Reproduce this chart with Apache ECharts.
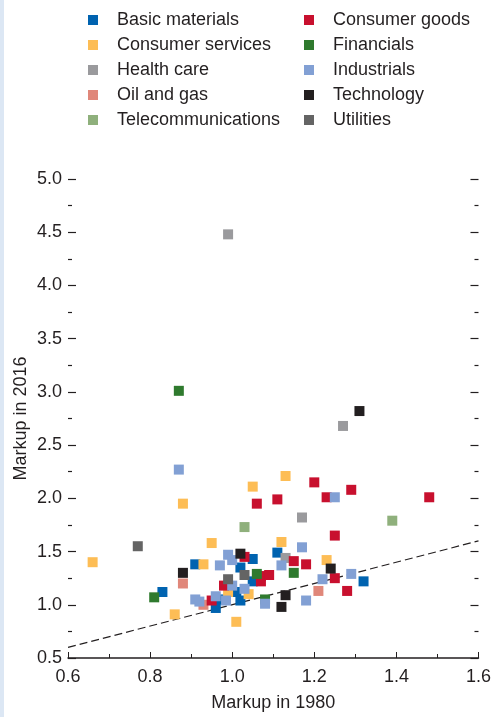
<!DOCTYPE html>
<html>
<head>
<meta charset="utf-8">
<script src="https://cdn.jsdelivr.net/npm/echarts@6/dist/echarts.min.js"></script>
<style>
  html, body { margin: 0; padding: 0; background: #fff; }
  #chart { width: 494px; height: 717px; }
</style>
</head>
<body>
<div id="chart"></div>
<script>
// sector data: [markup 1980, markup 2016]
const basicMaterials = [[0.83,1.12],[0.91,1.38],[0.96,0.97],[0.97,1.05],[1.01,1.12],[1.02,1.04],[1.02,1.35],[1.05,1.43],[1.05,1.22],[1.11,1.49],[1.32,1.22]];
const consumerGoods = [[0.95,1.04],[0.98,1.18],[1.03,1.45],[1.06,1.95],[1.07,1.27],[1.07,1.22],[1.09,1.28],[1.11,1.99],[1.15,1.41],[1.18,1.38],[1.20,2.15],[1.23,2.01],[1.25,1.65],[1.25,1.25],[1.28,1.13],[1.29,2.08],[1.48,2.01]];
const consumerServices = [[0.66,1.40],[0.86,0.91],[0.88,1.95],[0.93,1.38],[0.95,1.58],[0.99,1.12],[1.01,0.84],[1.04,1.10],[1.05,2.11],[1.12,1.59],[1.13,2.21],[1.23,1.42]];
const financials = [[0.81,1.07],[0.87,3.01],[1.06,1.29],[1.08,1.05],[1.15,1.30]];
const healthCare = [[0.99,4.48],[1.13,1.44],[1.17,1.82],[1.27,2.68]];
const industrials = [[0.87,2.27],[0.91,1.05],[0.92,1.03],[0.96,1.08],[0.97,1.37],[0.985,1.04],[0.99,1.47],[1.0,1.42],[1.0,1.18],[1.03,1.15],[1.08,1.01],[1.12,1.37],[1.17,1.54],[1.18,1.04],[1.22,1.24],[1.25,2.01],[1.29,1.29]];
const oilAndGas = [[0.88,1.20],[0.93,1.00],[1.21,1.13]];
const technology = [[0.88,1.30],[1.02,1.48],[1.12,0.98],[1.13,1.09],[1.24,1.34],[1.31,2.82]];
const telecoms = [[1.03,1.73],[1.39,1.79]];
const utilities = [[0.77,1.55],[0.99,1.24],[1.03,1.28]];

// 45 degree line
const diagonal = [[0.6,0.6],[1.6,1.6]];

const leftLegend = ['Basic materials', 'Consumer services', 'Health care', 'Oil and gas', 'Telecommunications'];
const rightLegend = ['Consumer goods', 'Financials', 'Industrials', 'Technology', 'Utilities'];

const ink = '#231f20';
const font = "'Liberation Sans', Arial, sans-serif";

function sector(name, data, color) {
  return {
    name: name,
    type: 'scatter',
    symbol: 'rect',
    symbolSize: 10,
    itemStyle: { color: color, opacity: 1 },
    data: data
  };
}

function legendBox(left, names) {
  return {
    data: names,
    orient: 'vertical',
    left: left,
    top: 11,
    padding: 0,
    itemGap: 7,
    itemWidth: 10,
    itemHeight: 10,
    icon: 'rect',
    selectedMode: false,
    textStyle: { fontFamily: font, fontSize: 18, color: ink, padding: [0, 0, 0, 14] }
  };
}

const chart = echarts.init(document.getElementById('chart'));
chart.setOption({
  animation: false,
  legend: [legendBox(88, leftLegend), legendBox(304, rightLegend)],
  graphic: [{
    type: 'rect',
    left: 0, top: 0,
    shape: { width: 4, height: 717 },
    style: { fill: '#dce7f4' }
  }],
  grid: { left: 68, right: 14, top: 179, bottom: 58 },
  xAxis: {
    type: 'value',
    min: 0.6, max: 1.6, interval: 0.2,
    name: 'Markup in 1980',
    nameLocation: 'middle',
    nameGap: 36,
    nameTextStyle: { fontFamily: font, fontSize: 18, color: ink },
    axisLine: { show: true, onZero: false, lineStyle: { color: ink, width: 1.5 } },
    axisTick: { inside: true, length: 6, lineStyle: { color: ink } },
    minorTick: { show: true, splitNumber: 2, length: 4, lineStyle: { color: ink } },
    splitLine: { show: false },
    axisLabel: { margin: 10, fontFamily: font, fontSize: 18, color: ink, formatter: v => v.toFixed(1) }
  },
  yAxis: [{
    type: 'value',
    min: 0.5, max: 5.0, interval: 0.5,
    name: 'Markup in 2016',
    nameLocation: 'middle',
    nameGap: 38,
    nameMoveOverlap: false,
    nameTextStyle: { fontFamily: font, fontSize: 18, color: ink },
    axisLine: { show: false },
    axisTick: { show: true, inside: true, length: 8, lineStyle: { color: ink, width: 1.2 } },
    minorTick: { show: true, splitNumber: 2, length: 4, lineStyle: { color: ink, width: 1.2 } },
    splitLine: { show: false },
    axisLabel: { margin: 6, fontFamily: font, fontSize: 18, color: ink, formatter: v => v.toFixed(1) }
  }, {
    type: 'value',
    position: 'right',
    min: 0.5, max: 5.0, interval: 0.5,
    axisLine: { show: false },
    axisTick: { show: true, inside: true, length: 8, lineStyle: { color: ink, width: 1.2 } },
    minorTick: { show: true, splitNumber: 2, length: 4, lineStyle: { color: ink, width: 1.2 } },
    splitLine: { show: false },
    axisLabel: { show: false }
  }],
  series: [
    {
      type: 'line',
      data: diagonal,
      symbol: 'none',
      silent: true,
      lineStyle: { color: ink, width: 1.2, type: [8, 4] },
      z: 1
    },
    sector('Basic materials', basicMaterials, '#0063b0'),
    sector('Consumer services', consumerServices, '#fdbd55'),
    sector('Health care', healthCare, '#9a9a9d'),
    sector('Oil and gas', oilAndGas, '#e0877a'),
    sector('Telecommunications', telecoms, '#8fb07c'),
    sector('Consumer goods', consumerGoods, '#c8102e'),
    sector('Financials', financials, '#2f7a2e'),
    sector('Industrials', industrials, '#82a0d4'),
    sector('Technology', technology, ink),
    sector('Utilities', utilities, '#646464')
  ]
});
</script>
</body>
</html>
